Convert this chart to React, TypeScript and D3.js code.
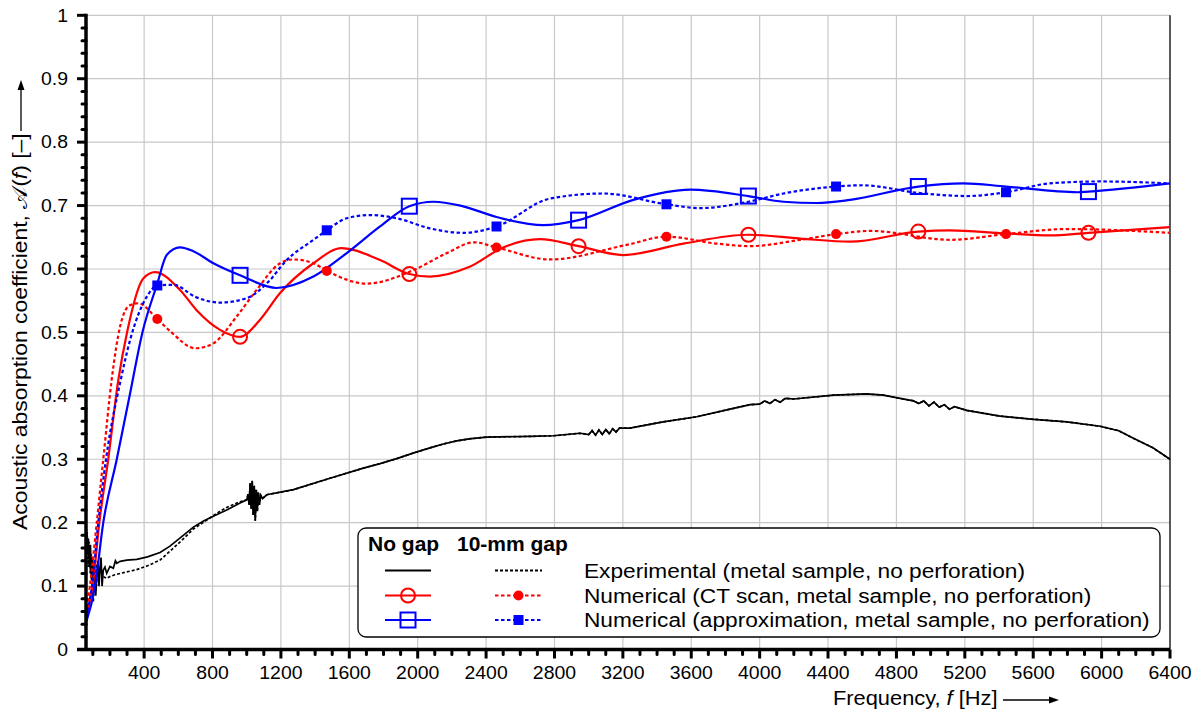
import React from "react";
import * as d3 from "d3";

type P = [number, number];

// ---------- tick labels ----------
const xTickLabels = [400, 800, 1200, 1600, 2000, 2400, 2800, 3200, 3600, 4000, 4400, 4800, 5200, 5600, 6000, 6400];
const yTickLabels = [0, 0.1, 0.2, 0.3, 0.4, 0.5, 0.6, 0.7, 0.8, 0.9, 1];

// ---------- numerical, CT scan (red) ----------
const ctNoGapLine: P[] = [
  [60, 0.05], [99, 0.1], [138, 0.2], [190, 0.3], [249, 0.425], [300, 0.5], [395, 0.585], [464, 0.595],
  [610, 0.567], [707, 0.535], [844, 0.504], [1078, 0.52], [1195, 0.562], [1390, 0.609], [1555, 0.633],
  [1780, 0.614], [2072, 0.588], [2300, 0.603], [2500, 0.634], [2714, 0.647], [3202, 0.622], [3554, 0.64],
  [4236, 0.648], [4529, 0.643], [5113, 0.661], [5441, 0.656], [5698, 0.653], [6400, 0.666],
];
const ctNoGapMarkers: P[] = [[961, 0.493], [1951, 0.592], [2941, 0.636], [3934, 0.654], [4928, 0.659], [5923, 0.657]];

const ctGapLine: P[] = [
  [60, 0.057], [83, 0.1], [123, 0.2], [161, 0.3], [210, 0.425], [260, 0.51], [317, 0.543], [366, 0.546],
  [560, 0.5], [698, 0.475], [800, 0.482], [941, 0.525], [1058, 0.567], [1195, 0.609], [1273, 0.615],
  [1390, 0.609], [1702, 0.577], [1974, 0.598], [2170, 0.625], [2330, 0.642], [2774, 0.615], [3222, 0.638],
  [3749, 0.64], [3944, 0.636], [4236, 0.646], [4650, 0.66], [5113, 0.646], [5796, 0.663], [6400, 0.657],
];
const ctGapMarkers: P[] = [[477, 0.521], [1468, 0.597], [2461, 0.634], [3455, 0.651], [4447, 0.655], [5441, 0.655]];

// ---------- numerical, approximation (blue) ----------
const approxNoGapLine: P[] = [
  [60, 0.042], [113, 0.1], [161, 0.2], [240, 0.3], [315, 0.4], [390, 0.5], [477, 0.577], [532, 0.622],
  [610, 0.634], [688, 0.628], [805, 0.609], [1175, 0.57], [1390, 0.588], [1585, 0.625], [1780, 0.667],
  [2092, 0.706], [2250, 0.7], [2461, 0.682], [2735, 0.669], [3262, 0.709], [3593, 0.725], [4139, 0.706],
  [4334, 0.704], [4529, 0.709], [5191, 0.735], [5441, 0.73], [5860, 0.721], [6400, 0.735],
];
const approxNoGapMarkers: P[] = [[961, 0.59], [1951, 0.699], [2941, 0.677], [3934, 0.715], [4928, 0.73], [5923, 0.722]];

const approxGapLine: P[] = [
  [60, 0.052], [95, 0.1], [132, 0.2], [177, 0.3], [263, 0.425], [320, 0.49], [415, 0.556], [571, 0.575],
  [700, 0.556], [844, 0.547], [1000, 0.554], [1117, 0.577], [1234, 0.614], [1390, 0.646], [1585, 0.68],
  [1721, 0.685], [1877, 0.68], [2072, 0.664], [2267, 0.657], [2774, 0.711], [3086, 0.719], [3652, 0.696],
  [3934, 0.706], [4139, 0.719], [4600, 0.732], [4928, 0.72], [5211, 0.715], [5698, 0.735], [5991, 0.738],
  [6400, 0.735],
];
const approxGapMarkers: P[] = [[477, 0.574], [1468, 0.661], [2461, 0.667], [3455, 0.702], [4447, 0.73], [5441, 0.721]];

// ---------- experimental (black) ----------
const expNoGapLow: P[] = [
  [62, 0.19], [68, 0.15], [74, 0.175], [80, 0.13], [86, 0.165], [92, 0.11], [98, 0.145], [104, 0.09],
  [110, 0.125], [117, 0.085], [123, 0.115], [130, 0.14], [136, 0.1], [142, 0.13], [148, 0.145], [154, 0.1],
  [161, 0.125], [171, 0.13], [181, 0.12], [200, 0.131], [220, 0.128], [232, 0.14], [240, 0.136], [260, 0.139],
  [298, 0.141], [357, 0.142], [420, 0.146], [493, 0.153], [551, 0.163], [620, 0.178], [688, 0.193],
  [750, 0.203], [820, 0.212], [883, 0.22], [961, 0.231],
];
const expGapLow: P[] = [
  [62, 0.16], [67, 0.185], [73, 0.13], [79, 0.17], [85, 0.12], [91, 0.15], [97, 0.095], [103, 0.075],
  [109, 0.12], [115, 0.14], [121, 0.1], [127, 0.135], [134, 0.115], [142, 0.125], [152, 0.12], [161, 0.115],
  [181, 0.112], [200, 0.115], [220, 0.117], [260, 0.12], [357, 0.126], [420, 0.132], [493, 0.141],
  [551, 0.155], [620, 0.172], [688, 0.19], [750, 0.201], [820, 0.214], [883, 0.224], [961, 0.233],
];
const expHigh: P[] = [
  [1000, 0.236], [1008, 0.245], [1014, 0.228], [1020, 0.262], [1026, 0.222], [1032, 0.266], [1038, 0.212],
  [1044, 0.258], [1050, 0.203], [1056, 0.252], [1062, 0.218], [1068, 0.248], [1074, 0.228], [1082, 0.243],
  [1092, 0.238], [1117, 0.244], [1273, 0.252], [1487, 0.27], [1682, 0.286], [1780, 0.293], [1877, 0.301],
  [1977, 0.31], [2072, 0.318], [2150, 0.324], [2228, 0.329], [2300, 0.332], [2403, 0.335], [2657, 0.336],
  [2793, 0.337], [2949, 0.341], [3000, 0.339], [3020, 0.345], [3040, 0.338], [3060, 0.346], [3080, 0.339],
  [3100, 0.347], [3120, 0.34], [3140, 0.348], [3160, 0.343], [3180, 0.349], [3241, 0.349], [3436, 0.359],
  [3632, 0.367], [3827, 0.379], [3944, 0.386], [4000, 0.387], [4030, 0.392], [4060, 0.388], [4090, 0.394],
  [4120, 0.39], [4150, 0.396], [4200, 0.395], [4431, 0.401], [4626, 0.403], [4724, 0.401], [4821, 0.396],
  [4900, 0.392], [4930, 0.388], [4960, 0.392], [4990, 0.384], [5020, 0.39], [5050, 0.382], [5080, 0.386],
  [5110, 0.379], [5140, 0.383], [5211, 0.377], [5406, 0.368], [5601, 0.363], [5796, 0.359], [5991, 0.352],
  [6100, 0.345], [6186, 0.333], [6300, 0.318], [6400, 0.3],
];
const expNoGap: P[] = [...expNoGapLow, ...expHigh];
const expGap: P[] = [...expGapLow, ...expHigh];

// ---------- legend ----------
const legendHeader = ["No gap", "10-mm gap"];
const legendRows = [
  "Experimental (metal sample, no perforation)",
  "Numerical (CT scan, metal sample, no perforation)",
  "Numerical (approximation, metal sample, no perforation)",
];

const FONT = "'Liberation Sans', Arial, Helvetica, sans-serif";
const RED = "#ff0000";
const BLUE = "#0000ff";

const x = d3.scaleLinear().domain([60, 6400]).range([86, 1170]);
const y = d3.scaleLinear().domain([0, 1]).range([649.5, 15.3]);

const smooth = d3.line<P>().x((d) => x(d[0])).y((d) => y(d[1])).curve(d3.curveMonotoneX);
const straight = d3.line<P>().x((d) => x(d[0])).y((d) => y(d[1]));
const merge = (a: P[], b: P[]): P[] => [...a, ...b].sort((p, q) => p[0] - q[0]);

function T(props: { x: number; y: number; sx?: number; anchor?: string; size: number; weight?: string; rotate?: number; children: React.ReactNode }) {
  const { sx = 1, anchor = "start", size, weight = "normal", rotate } = props;
  const tr = `translate(${props.x},${props.y})${rotate ? ` rotate(${rotate})` : ""} scale(${sx},1)`;
  return (
    <text transform={tr} textAnchor={anchor} fontSize={size} fontWeight={weight} fontFamily={FONT} fill="#000">
      {props.children}
    </text>
  );
}

function OpenCircle({ cx, cy, c }: { cx: number; cy: number; c: string }) {
  return <circle cx={cx} cy={cy} r={7} fill="none" stroke={c} strokeWidth={2} />;
}
function FillCircle({ cx, cy, c }: { cx: number; cy: number; c: string }) {
  return <circle cx={cx} cy={cy} r={5} fill={c} />;
}
function OpenSquare({ cx, cy, c }: { cx: number; cy: number; c: string }) {
  return <rect x={cx - 7.5} y={cy - 7.5} width={15} height={15} fill="none" stroke={c} strokeWidth={2} />;
}
function FillSquare({ cx, cy, c }: { cx: number; cy: number; c: string }) {
  return <rect x={cx - 5} y={cy - 5} width={10} height={10} fill={c} />;
}

export default function App() {
  const x0 = 86, x1 = 1170, yTop = 15.3, yBot = 649.5;
  const xMinor = d3.range(100, 6401, 100).filter((f) => f % 400 !== 0);
  const yMinor = d3.range(0.02, 1.0, 0.02).filter((v) => Math.abs(v * 10 - Math.round(v * 10)) > 1e-6);

  const lx0 = 358, ly0 = 528, lx1 = 1160, ly1 = 637;
  const rowY = [570.5, 595.5, 620];
  const solidX = [385, 431];
  const dotX = [495, 542];

  return (
    <svg width={1200} height={715} style={{ position: "fixed", left: 0, top: 0, background: "#fff" }}>
      <rect x={0} y={0} width={1200} height={715} fill="#fff" />
      {/* grid */}
      {xTickLabels.filter((f) => f < 6400).map((f) => (
        <line key={"gx" + f} x1={x(f)} x2={x(f)} y1={yTop} y2={yBot} stroke="#c8c8c8" strokeWidth={1.2} />
      ))}
      {yTickLabels.filter((v) => v > 0).map((v) => (
        <line key={"gy" + v} x1={x0} x2={x1} y1={y(v)} y2={y(v)} stroke="#c8c8c8" strokeWidth={1.2} />
      ))}
      <line x1={x1} x2={x1} y1={yTop} y2={yBot} stroke="#000" strokeWidth={1.3} />

      {/* experimental */}
      <path d={straight(expGap) || ""} fill="none" stroke="#000" strokeWidth={1.7} strokeDasharray="3 2" />
      <path d={straight(expNoGap) || ""} fill="none" stroke="#000" strokeWidth={1.7} />

      {/* numerical lines */}
      <path d={smooth(merge(ctGapLine, ctGapMarkers)) || ""} fill="none" stroke={RED} strokeWidth={2.2} strokeDasharray="3.5 2.5" />
      <path d={smooth(merge(ctNoGapLine, ctNoGapMarkers)) || ""} fill="none" stroke={RED} strokeWidth={2.2} />
      <path d={smooth(merge(approxGapLine, approxGapMarkers)) || ""} fill="none" stroke={BLUE} strokeWidth={2.2} strokeDasharray="3.5 2.5" />
      <path d={smooth(merge(approxNoGapLine, approxNoGapMarkers)) || ""} fill="none" stroke={BLUE} strokeWidth={2.2} />

      {/* markers */}
      {ctNoGapMarkers.map((d, i) => <OpenCircle key={"a" + i} cx={x(d[0])} cy={y(d[1])} c={RED} />)}
      {ctGapMarkers.map((d, i) => <FillCircle key={"b" + i} cx={x(d[0])} cy={y(d[1])} c={RED} />)}
      {approxNoGapMarkers.map((d, i) => <OpenSquare key={"c" + i} cx={x(d[0])} cy={y(d[1])} c={BLUE} />)}
      {approxGapMarkers.map((d, i) => <FillSquare key={"d" + i} cx={x(d[0])} cy={y(d[1])} c={BLUE} />)}

      {/* axes */}
      <line x1={x0} x2={x0} y1={yTop - 1.5} y2={yBot + 1.5} stroke="#000" strokeWidth={3.5} />
      <line x1={77} x2={x1} y1={yBot} y2={yBot} stroke="#000" strokeWidth={3.5} />
      {yTickLabels.map((v) => (
        <line key={"ty" + v} x1={77} x2={x0} y1={y(v)} y2={y(v)} stroke="#000" strokeWidth={3} />
      ))}
      {yMinor.map((v) => (
        <line key={"my" + v} x1={82} x2={x0} y1={y(v)} y2={y(v)} stroke="#000" strokeWidth={3} strokeLinecap="round" />
      ))}
      {xTickLabels.map((f) => (
        <line key={"tx" + f} x1={x(f)} x2={x(f)} y1={yBot} y2={yBot + 9} stroke="#000" strokeWidth={3} />
      ))}
      {xMinor.map((f) => (
        <line key={"mx" + f} x1={x(f)} x2={x(f)} y1={yBot} y2={yBot + 5} stroke="#000" strokeWidth={3} strokeLinecap="round" />
      ))}

      {/* tick labels */}
      {yTickLabels.map((v) => (
        <T key={"ly" + v} x={68} y={y(v) + 6.3} anchor="end" size={18} sx={1.08}>{String(v)}</T>
      ))}
      {xTickLabels.map((f) => (
        <T key={"lx" + f} x={x(f)} y={679} anchor="middle" size={18} sx={1.08}>{String(f)}</T>
      ))}

      {/* axis titles */}
      <T x={833} y={705} size={21} sx={1.04}>
        Frequency, <tspan fontStyle="italic">f</tspan> [Hz]
      </T>
      <line x1={1003} x2={1052} y1={700} y2={700} stroke="#000" strokeWidth={1.3} />
      <path d="M1059,700 L1049,696.5 L1049,703.5 Z" fill="#000" />

      <T x={26.5} y={530} size={21} sx={1.09} rotate={-90}>
        Acoustic absorption coefficient, <tspan fontFamily="'DejaVu Sans', serif">𝒜</tspan>(<tspan fontStyle="italic">f</tspan>) [–]
      </T>
      <line x1={21} x2={21} y1={131} y2={87} stroke="#000" strokeWidth={1.3} />
      <path d="M21,80 L17.5,90 L24.5,90 Z" fill="#000" />

      {/* legend */}
      <rect x={lx0} y={ly0} width={lx1 - lx0} height={ly1 - ly0} rx={8} ry={8} fill="#fff" stroke="#000" strokeWidth={1.3} />
      <T x={368} y={551} size={21} weight="bold">{legendHeader[0]}</T>
      <T x={457} y={551} size={21} weight="bold">{legendHeader[1]}</T>

      <line x1={solidX[0]} x2={solidX[1]} y1={rowY[0]} y2={rowY[0]} stroke="#000" strokeWidth={2} />
      <line x1={dotX[0]} x2={dotX[1]} y1={rowY[0]} y2={rowY[0]} stroke="#000" strokeWidth={2} strokeDasharray="3 2" />

      <line x1={solidX[0]} x2={solidX[1]} y1={rowY[1]} y2={rowY[1]} stroke={RED} strokeWidth={2.2} />
      <OpenCircle cx={(solidX[0] + solidX[1]) / 2} cy={rowY[1]} c={RED} />
      <line x1={dotX[0]} x2={dotX[1]} y1={rowY[1]} y2={rowY[1]} stroke={RED} strokeWidth={2.2} strokeDasharray="3.5 2.5" />
      <FillCircle cx={(dotX[0] + dotX[1]) / 2} cy={rowY[1]} c={RED} />

      <line x1={solidX[0]} x2={solidX[1]} y1={rowY[2]} y2={rowY[2]} stroke={BLUE} strokeWidth={2.2} />
      <OpenSquare cx={(solidX[0] + solidX[1]) / 2} cy={rowY[2]} c={BLUE} />
      <line x1={dotX[0]} x2={dotX[1]} y1={rowY[2]} y2={rowY[2]} stroke={BLUE} strokeWidth={2.2} strokeDasharray="3.5 2.5" />
      <FillSquare cx={(dotX[0] + dotX[1]) / 2} cy={rowY[2]} c={BLUE} />

      {legendRows.map((t, i) => (
        <T key={"lr" + i} x={584} y={rowY[i] + 7} size={21} sx={1.08}>{t}</T>
      ))}
    </svg>
  );
}
